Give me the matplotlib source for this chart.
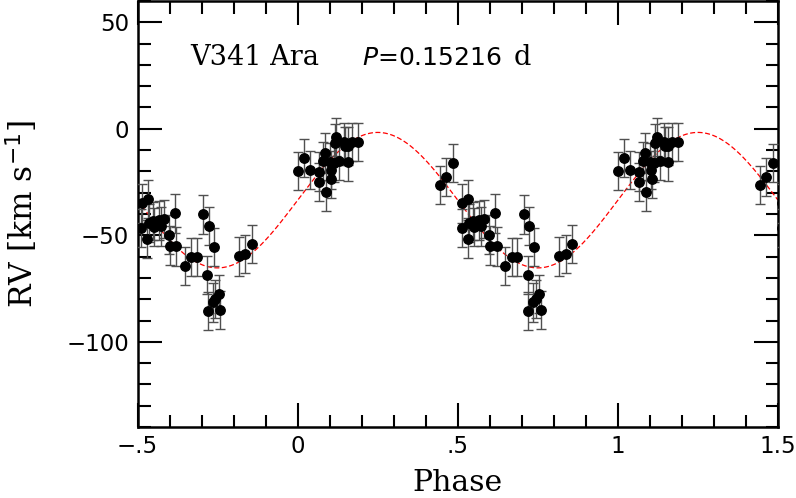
import numpy as np
import matplotlib
matplotlib.use("Agg")
import matplotlib.pyplot as plt
from matplotlib.ticker import MultipleLocator

# measured RV points (base phase, folded), plotted again at phase +/- 1
phase = [0.445, 0.464, 0.484,
         0.513, 0.533, 0.512, 0.531, 0.536, 0.549, 0.552, 0.567, 0.572, 0.583,
         0.616, 0.599, 0.601, 0.621,
         0.648, 0.668, 0.686, 0.706, 0.723, 0.738,
         0.718, 0.720, 0.736, 0.743, 0.755, 0.759,
         0.817, 0.837, 0.856,
         0.000, 0.019, 0.038, 0.066, 0.067, 0.078, 0.085, 0.088, 0.101, 0.104,
         0.105, 0.113, 0.116, 0.121, 0.130, 0.145, 0.148, 0.156, 0.158, 0.169, 0.188]
rv = [-26.5, -22.6, -16.2,
      -35.0, -33.0, -46.5, -51.8, -44.2, -43.3, -46.0, -43.0, -45.8, -42.3,
      -39.7, -49.7, -54.8, -55.2,
      -64.5, -60.2, -60.2, -40.2, -45.5, -55.5,
      -68.5, -85.6, -81.5, -79.8, -77.6, -85.2,
      -59.9, -58.9, -54.2,
      -19.8, -13.8, -19.4, -20.1, -24.9, -15.1, -11.2, -29.8, -15.5, -19.2,
      -23.6, -15.9, -6.8, -4.0, -15.1, -6.3, -8.1, -8.1, -15.4, -6.1, -6.2]
err = [9.0] * len(phase)

# sine fit
gamma = -33.5
K = 31.8

plt.rcParams['mathtext.fontset'] = 'dejavusans'
plt.rcParams['lines.scale_dashes'] = False

fig = plt.figure(figsize=(7.96, 4.98), dpi=100)
ax = fig.add_axes([137.5 / 796, 1 - 427 / 498, (778 - 137.5) / 796, 426 / 498])

xs = np.linspace(-0.5, 1.5, 500)
ax.plot(xs, gamma + K * np.sin(2 * np.pi * xs), color='red', lw=0.9,
        ls=(0, (3.6, 1.8)), zorder=2)

ph = np.array(phase)
for off in (-1, 0, 1):
    ax.errorbar(ph + off, rv, yerr=err, fmt='o', color='black', ms=6.8,
                ecolor='#505050', elinewidth=1.0, capsize=3.5, capthick=1.0,
                zorder=3)

ax.set_xlim(-0.5, 1.5)
ax.set_ylim(-140, 60)
ax.set_xticks([-0.5, 0, 0.5, 1, 1.5])
ax.set_xticklabels(['\u2212.5', '0', '.5', '1', '1.5'])
ax.set_yticks([-100, -50, 0, 50])
ax.set_yticklabels(['\u2212100', '\u221250', '0', '50'])
ax.xaxis.set_minor_locator(MultipleLocator(0.1))
ax.yaxis.set_minor_locator(MultipleLocator(10))
ax.tick_params(which='both', direction='in', top=True, right=True, width=1.5,
               labelsize=16.5, pad=6)
ax.tick_params(which='major', length=17.5)
ax.tick_params(which='minor', length=9)
for s in ax.spines.values():
    s.set_linewidth(1.8)

serif = 'DejaVu Serif'
ax.text(-0.336, 29.8, 'V341 Ara', family=serif, fontsize=19.5, va='baseline')
ax.text(0.201, 29.8, r'$P$=0.15216', family='DejaVu Sans', fontsize=18,
        va='baseline')
ax.text(0.673, 29.8, 'd', family=serif, fontsize=19.5, va='baseline')

fig.text(457 / 796, 1 - 491 / 498, 'Phase', family=serif, fontsize=21.5,
         ha='center', va='baseline')
fig.text(22 / 796, 1 - 214 / 498, r'RV [km s$^{-1}$]', family=serif,
         fontsize=22.5, rotation=90, ha='center', va='center')

fig.savefig('out.png', dpi=100)
